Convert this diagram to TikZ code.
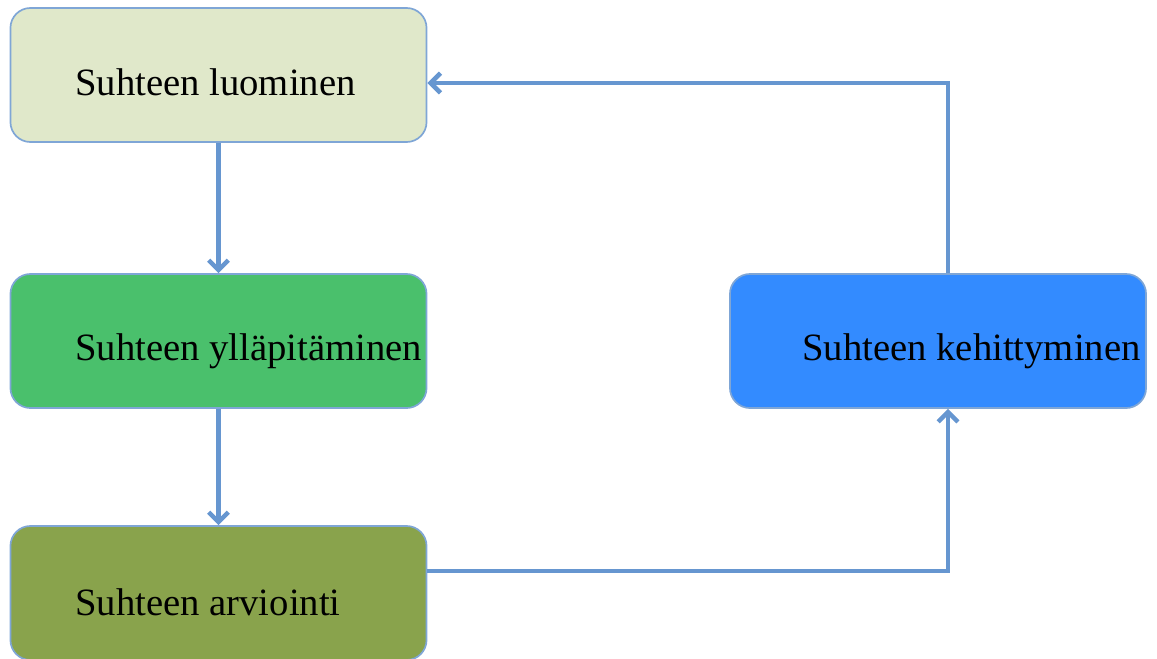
\documentclass[tikz,border=0pt]{standalone}
\usepackage{fontspec}
\setmainfont{Liberation Serif}
\usetikzlibrary{arrows.meta}
\definecolor{luocol}{RGB}{224,232,202}
\definecolor{yllcol}{RGB}{74,192,108}
\definecolor{arvcol}{RGB}{137,163,76}
\definecolor{kehcol}{RGB}{51,139,255}
\definecolor{edgecol}{RGB}{127,166,214}
\definecolor{flowcol}{RGB}{102,150,208}
\tikzset{
  stage/.style={rectangle, rounded corners=0.5cm, draw=edgecol, line width=1.2pt, minimum width=10.4cm, minimum height=3.35cm, inner sep=0pt},
  stagetext/.style={anchor=base west, inner sep=0pt, font=\fontsize{27.5}{32}\selectfont},
  flow/.style={line width=3.2pt, flowcol, -{Straight Barb[length=7pt, width=14pt]}}
}
\begin{document}
\begin{tikzpicture}[x=0.025cm, y=-0.025cm]
  \useasboundingbox (0,0) rectangle (1157,658);

  \node[stage, fill=luocol] (luo) at (218.5,75) {};
  \node[stage, fill=yllcol] (yll) at (218.5,341) {};
  \node[stage, fill=arvcol] (arv) at (218.5,593) {};
  \node[stage, fill=kehcol] (keh) at (938,341) {};

  \node[stagetext] (luotxt) at (75,95) {Suhteen luominen};
  \node[stagetext] (ylltxt) at (75,360) {Suhteen ylläpitäminen};
  \node[stagetext] (arvtxt) at (75,615) {Suhteen arviointi};
  \node[stagetext] (kehtxt) at (802,360) {Suhteen kehittyminen};

  \draw[flow] (luo.south) -- (yll.north);
  \draw[flow] (yll.south) -- (arv.north);
  \draw[flow] ([yshift=0.55cm]arv.east) -| ([xshift=0.25cm]keh.south);
  \draw[flow] ([xshift=0.25cm]keh.north) |- ([yshift=-0.2cm]luo.east);
\end{tikzpicture}
\end{document}
